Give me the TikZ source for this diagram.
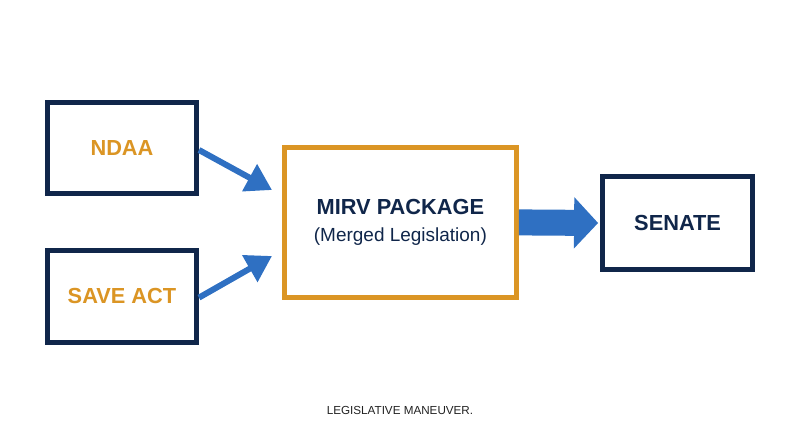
\documentclass[tikz,border=0pt]{standalone}
\usepackage{fontspec}
\setmainfont{Liberation Sans}
\usetikzlibrary{arrows.meta, positioning}
\definecolor{navy}{HTML}{10264A}
\definecolor{gold}{HTML}{DB9524}
\definecolor{arrowblue}{HTML}{2F70C2}
\definecolor{caption}{HTML}{222222}
\tikzset{
  billbox/.style={draw=navy, line width=0.125cm, fill=white, minimum width=3.725cm, minimum height=2.28cm, text=gold, font=\fontsize{15.5}{18}\selectfont\bfseries},
  feed/.style={arrowblue, line width=0.15cm, -{Triangle[length=0.64cm, width=0.74cm]}},
}
\begin{document}
\begin{tikzpicture}
\useasboundingbox (0,0) rectangle (20,-11.175);

\node [billbox] (ndaa) at (3.05,-3.7) {NDAA};
\node [billbox, minimum height=2.3cm] (save) at (3.05,-7.41) {SAVE ACT};

\node [draw=gold, line width=0.125cm, minimum width=5.8cm, minimum height=3.75cm, align=center, text=navy, font=\fontsize{13.5}{19.5}\selectfont] (mirv) at (10.01,-5.56)
  {{\fontsize{15.5}{18}\selectfont\bfseries MIRV PACKAGE}\\ (Merged Legislation)};

\node [billbox, text=navy, minimum width=3.75cm, minimum height=2.325cm] (senate) at (16.94,-5.575) {SENATE};

\coordinate (ndaatip) at (6.8,-4.75);
\coordinate (savetip) at (6.8,-6.4);
\draw [feed] (ndaa.east) ++(0,-0.05) -- (ndaatip);
\draw [feed] (save.east) ++(0,-0.03) -- (savetip);

\draw [arrowblue, line width=0.65cm, -{Triangle[length=0.6cm, width=1.25cm]}] (mirv.east) -- ([xshift=-0.05cm]senate.west);

\node [text=caption, font=\fontsize{8.3}{10}\selectfont] (note) at (10,-10.25) {LEGISLATIVE MANEUVER.};
\end{tikzpicture}
\end{document}
